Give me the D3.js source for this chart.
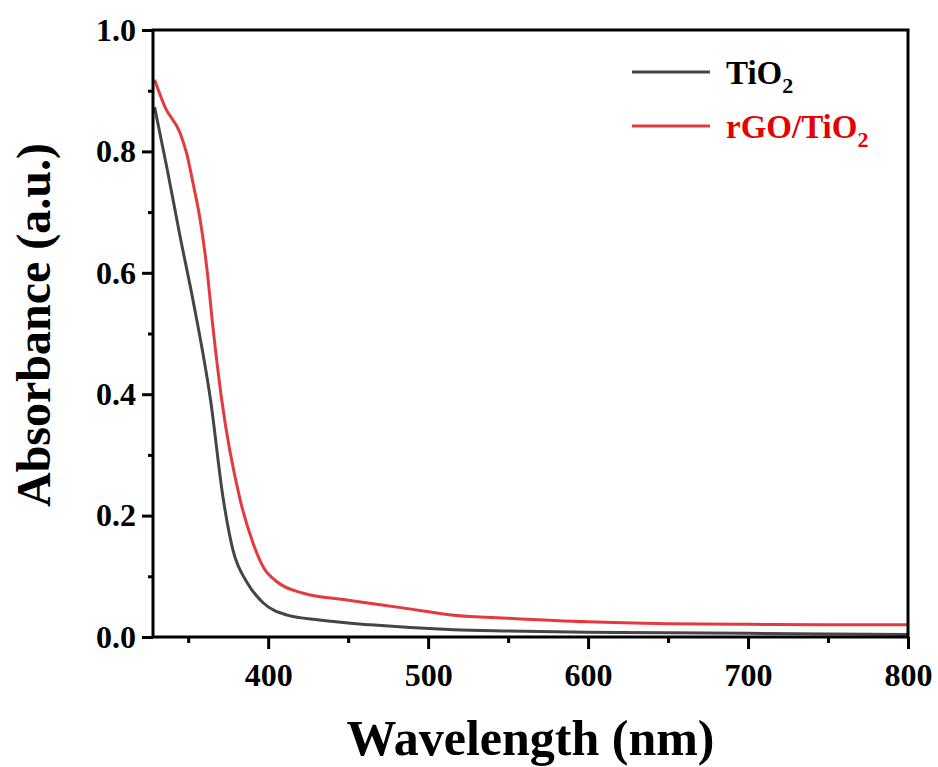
<!DOCTYPE html>
<html>
<head>
<meta charset="utf-8">
<title>UV-Vis absorbance TiO2 vs rGO/TiO2</title>
<script src="https://d3js.org/d3.v7.min.js"></script>
<style>
  body { margin: 0; background: #fff; }
  text { font-family: "Liberation Serif", "Times New Roman", serif; font-weight: bold; }
</style>
</head>
<body>
<div id="chart"></div>
<script>
// values (wavelength in nm, absorbance in a.u.)
const tioWave = [329, 337, 345, 353, 364, 372, 378, 387, 397, 412, 432, 464, 516, 550, 600, 650, 700, 750, 800];
const tioAbs  = [0.873, 0.769, 0.659, 0.555, 0.390, 0.226, 0.143, 0.089, 0.056, 0.036, 0.028, 0.020, 0.012, 0.010, 0.008, 0.007, 0.006, 0.005, 0.004];

const rgoWave = [329, 335.5, 345, 349, 353, 357.5, 362, 365, 371, 382.5, 390.5, 397, 405.5, 422, 449, 484, 516, 550, 600, 650, 700, 750, 800];
const rgoAbs  = [0.918, 0.873, 0.830, 0.797, 0.748, 0.687, 0.600, 0.522, 0.390, 0.226, 0.155, 0.115, 0.091, 0.072, 0.061, 0.048, 0.036, 0.031, 0.025, 0.022, 0.021, 0.020, 0.020];

const xMajor = [400, 500, 600, 700, 800];
const xMinor = [350, 450, 550, 650, 750];
const yMajor = [0, 0.2, 0.4, 0.6, 0.8, 1.0];
const yMinor = [0.1, 0.3, 0.5, 0.7, 0.9];

const W = 938, H = 767;
const plotL = 153, plotR = 908, plotT = 30, plotB = 637;

const svg = d3.select("#chart").append("svg")
    .attr("width", W).attr("height", H);

const x = d3.scaleLinear().domain([328, 800]).range([plotL, plotR]);
const y = d3.scaleLinear().domain([0, 1.0]).range([plotB, plotT]);

// curves
const line = d3.line()
    .x(d => x(d[0]))
    .y(d => y(d[1]))
    .curve(d3.curveMonotoneX);

const series = [
  { name: "TiO", wave: tioWave, abs: tioAbs, color: "#454545", text: "#000" },
  { name: "rGO/TiO", wave: rgoWave, abs: rgoAbs, color: "#e53a3d", text: "#e60000" }
];

series.forEach(s => {
  svg.append("path")
      .datum(s.wave.map((w, i) => [w, s.abs[i]]))
      .attr("fill", "none")
      .attr("stroke", s.color)
      .attr("stroke-width", 3)
      .attr("d", line);
});

// frame
svg.append("rect")
    .attr("x", plotL).attr("y", plotT)
    .attr("width", plotR - plotL).attr("height", plotB - plotT)
    .attr("fill", "none").attr("stroke", "#000").attr("stroke-width", 3);

// x axis
svg.append("g").attr("transform", `translate(0,${plotB})`)
    .call(d3.axisBottom(x).tickValues(xMajor).tickSize(12).tickPadding(14).tickFormat(d3.format("d")));
svg.append("g").attr("transform", `translate(0,${plotB})`)
    .call(d3.axisBottom(x).tickValues(xMinor).tickSize(6).tickFormat(""));

// y axis
svg.append("g").attr("transform", `translate(${plotL},0)`)
    .call(d3.axisLeft(y).tickValues(yMajor).tickSize(11).tickPadding(6).tickFormat(d3.format(".1f")));
svg.append("g").attr("transform", `translate(${plotL},0)`)
    .call(d3.axisLeft(y).tickValues(yMinor).tickSize(5).tickFormat(""));

svg.selectAll(".domain").remove();
svg.selectAll(".tick line").attr("stroke", "#000").attr("stroke-width", 3);
svg.selectAll(".tick text")
    .attr("fill", "#000")
    .style("font-family", '"Liberation Serif", serif')
    .style("font-weight", "bold")
    .style("font-size", "32px");

// axis titles
svg.append("text")
    .attr("x", (plotL + plotR) / 2)
    .attr("y", 755)
    .attr("text-anchor", "middle")
    .style("font-size", "50px")
    .text("Wavelength (nm)");

svg.append("text")
    .attr("transform", "translate(50,325) rotate(-90)")
    .attr("text-anchor", "middle")
    .style("font-size", "48px")
    .text("Absorbance (a.u.)");

// legend
const legendY = [72, 126];
series.forEach((s, i) => {
  svg.append("line")
      .attr("x1", 632).attr("x2", 710)
      .attr("y1", legendY[i]).attr("y2", legendY[i])
      .attr("stroke", s.color).attr("stroke-width", 3);
  const t = svg.append("text")
      .attr("x", 726)
      .attr("y", legendY[i] + 12)
      .attr("fill", s.text)
      .style("font-size", "33px");
  t.append("tspan").text(s.name);
  t.append("tspan").attr("dy", 9).style("font-size", "22px").text("2");
});
</script>
</body>
</html>
